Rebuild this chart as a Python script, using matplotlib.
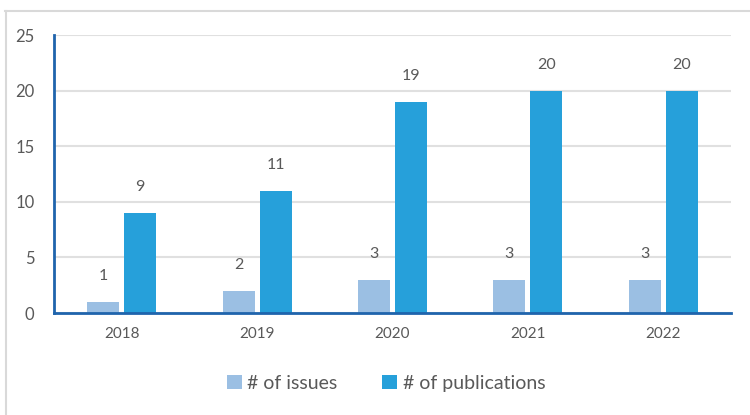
import matplotlib
matplotlib.use("Agg")
import matplotlib.pyplot as plt
from matplotlib.lines import Line2D
import numpy as np

years = ["2018", "2019", "2020", "2021", "2022"]
issues = [1, 2, 3, 3, 3]
publications = [9, 11, 19, 20, 20]
series_names = ["# of issues", "# of publications"]
yticks = [0, 5, 10, 15, 20, 25]

c_issues = "#9BBFE3"
c_pubs = "#26A0DA"
c_spine = "#1F64AC"
c_text = "#595959"
c_grid = "#E0E0E0"

plt.rcParams['font.family'] = ['Lato', 'DejaVu Sans']

fig = plt.figure(figsize=(7.5, 4.15), dpi=100)
ax = fig.add_axes([54/750, (415-313)/415, (731-54)/750, (313-35)/415])

x = np.arange(len(years))
w = 0.237
off = 0.137
b1 = ax.bar(x - off, issues, w, color=c_issues, label=series_names[0], zorder=3)
b2 = ax.bar(x + off, publications, w, color=c_pubs, label=series_names[1], zorder=3)

for bars, vals in ((b1, issues), (b2, publications)):
    for r, v in zip(bars, vals):
        ax.annotate(str(v), (r.get_x() + r.get_width()/2, v), xytext=(0, 18.5),
                    textcoords="offset points", ha="center", va="center",
                    fontsize=11.5, color=c_text)

ax.set_xlim(-0.5, len(years) - 0.5)
ax.set_ylim(0, 25)
ax.set_yticks(yticks)
ax.set_yticklabels([str(t) for t in yticks])
ax.set_xticks(x)
ax.set_xticklabels(years)
ax.tick_params(axis='y', length=0, pad=14, labelsize=12, labelcolor=c_text)
ax.tick_params(axis='x', length=0, pad=10, labelsize=11, labelcolor=c_text)
ax.grid(axis='y', color=c_grid, linewidth=1.5, zorder=0)
ax.set_axisbelow(True)
for s in ("top", "right"):
    ax.spines[s].set_visible(False)
for s in ("left", "bottom"):
    ax.spines[s].set_color(c_spine)
    ax.spines[s].set_linewidth(2)
    ax.spines[s].set_zorder(4)

fig.legend(handles=[b1, b2], loc="center", bbox_to_anchor=(0.515, 1 - 383/415),
           ncol=2, frameon=False, fontsize=14, labelcolor=c_text,
           handlelength=0.75, handleheight=0.75, handletextpad=0.3, columnspacing=2.3)

# outer chart border (light gray)
fig.add_artist(Line2D([5/750, 1.0], [1 - 11/415, 1 - 11/415], transform=fig.transFigure,
                      color="#D9D9D9", linewidth=1.5))
fig.add_artist(Line2D([6/750, 6/750], [0, 1 - 11/415], transform=fig.transFigure,
                      color="#D9D9D9", linewidth=1.5))

fig.savefig("out.png", dpi=100)
